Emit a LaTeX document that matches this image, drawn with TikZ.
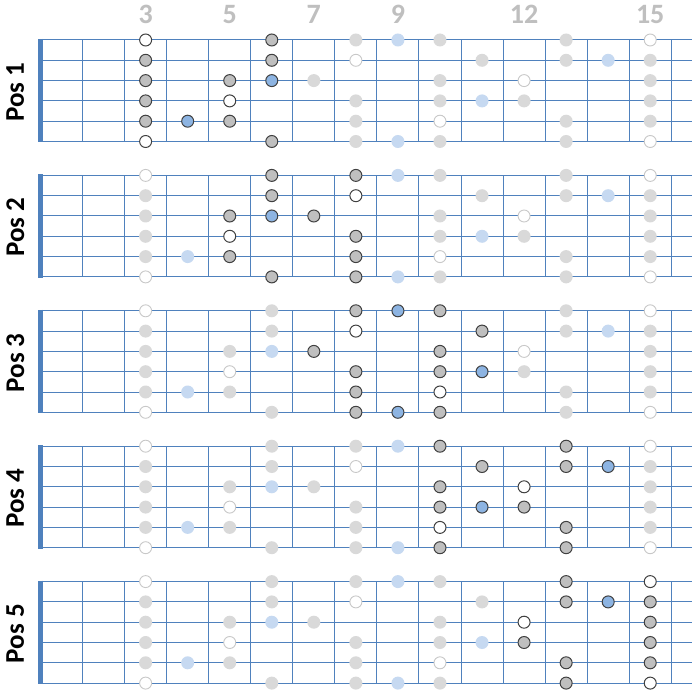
\documentclass[tikz,border=0pt]{standalone}
\usepackage{fontspec}
\setmainfont{Carlito}
\definecolor{strc}{HTML}{4F81BD}
\definecolor{fadeg}{HTML}{D9D9D9}
\definecolor{fadeo}{HTML}{C8C8C8}
\definecolor{fadeb}{HTML}{C6D9F1}
\definecolor{hlg}{HTML}{BFBFBF}
\definecolor{hlb}{HTML}{8DB4E2}
\definecolor{hlo}{HTML}{404040}
\definecolor{numc}{HTML}{BFBFBF}
\tikzset{
  dot/.style={circle, inner sep=0pt, minimum size=13pt},
  fn/.style={dot, fill=fadeg},
  fr/.style={dot, fill=white, draw=fadeo, line width=0.9pt, minimum size=12pt},
  fb/.style={dot, fill=fadeb},
  hn/.style={dot, fill=hlg, draw=hlo, line width=1pt, minimum size=12pt},
  hr/.style={dot, fill=white, draw=hlo, line width=1pt, minimum size=12pt},
  hb/.style={dot, fill=hlb, draw=hlo, line width=1pt, minimum size=12pt},
  stringline/.style={draw=strc, line width=1pt},
  fretline/.style={draw=strc, line width=1pt},
  nutline/.style={draw=strc, line width=5.5pt},
  poslabel/.style={font=\fontsize{27}{27}\selectfont\bfseries, text=black, inner sep=0pt, rotate=90},
  fretnum/.style={font=\fontsize{28}{28}\selectfont\bfseries, text=numc, inner sep=0pt},
}
% highlighted notes per position: string-fret (string 0 = top)
\def\sethl#1#2{\foreach \x in {#2}{\expandafter\xdef\csname hl#1-\x\endcsname{1}}}
\sethl{1}{0-3,0-6,1-3,1-6,2-3,2-5,2-6,3-3,3-5,4-3,4-4,4-5,5-3,5-6}
\sethl{2}{0-6,0-8,1-6,1-8,2-5,2-6,2-7,3-5,3-8,4-5,4-8,5-6,5-8}
\sethl{3}{0-8,0-9,0-10,1-8,1-11,2-7,2-10,3-8,3-10,3-11,4-8,4-10,5-8,5-9,5-10}
\sethl{4}{0-10,0-13,1-11,1-13,1-14,2-10,2-12,3-10,3-11,3-12,4-10,4-13,5-10,5-13}
\sethl{5}{0-13,0-15,1-13,1-14,1-15,2-12,2-15,3-12,3-15,4-13,4-15,5-13,5-15}
\def\notelist{0/3/r,0/6/n,0/8/n,0/9/b,0/10/n,0/13/n,0/15/r,
1/3/n,1/6/n,1/8/r,1/11/n,1/13/n,1/14/b,1/15/n,
2/3/n,2/5/n,2/6/b,2/7/n,2/10/n,2/12/r,2/15/n,
3/3/n,3/5/r,3/8/n,3/10/n,3/11/b,3/12/n,3/15/n,
4/3/n,4/4/b,4/5/n,4/8/n,4/10/r,4/13/n,4/15/n,
5/3/r,5/6/n,5/8/n,5/9/b,5/10/n,5/13/n,5/15/r}
\begin{document}
\begin{tikzpicture}[x=1pt,y=-1pt]
\fill[white] (0,0) rectangle (698,700);
\useasboundingbox (0,0) rectangle (698,700);
% fret numbers
\foreach \n in {3,5,7,9,12,15}{
  \pgfmathsetmacro\X{40.5+42.05*(\n-0.5)}
  \node[fretnum] (num\n) at (\X,14.5) {\n};
}
\foreach \p in {1,...,5}{
  \pgfmathsetmacro\T{40+135.4*(\p-1)}
  \pgfmathsetmacro\B{\T+101.5}
  % strings
  \foreach \s in {0,...,5}{
    \pgfmathsetmacro\Y{\T+20.3*\s}
    \draw[stringline] (40.5,\Y) -- (692,\Y);
  }
  % frets
  \foreach \k in {1,...,15}{
    \pgfmathsetmacro\X{40.5+42.05*\k}
    \draw[fretline] (\X,\T) -- (\X,\B);
  }
  % nut
  \draw[nutline] (40.5,\T-1) -- (40.5,\B+1);
  % label
  \node[poslabel] (pos\p) at (15.3,\T+52) {Pos \p};
  % dots
  \foreach \s/\f/\t in \notelist{
    \pgfmathsetmacro\X{40.5+42.05*(\f-0.5)}
    \pgfmathsetmacro\Y{\T+20.3*\s}
    \edef\sty{\ifcsname hl\p-\s-\f\endcsname h\else f\fi\t}
    \node[\sty] (d\p-\s-\f) at (\X,\Y) {};
  }
}
\end{tikzpicture}
\end{document}
